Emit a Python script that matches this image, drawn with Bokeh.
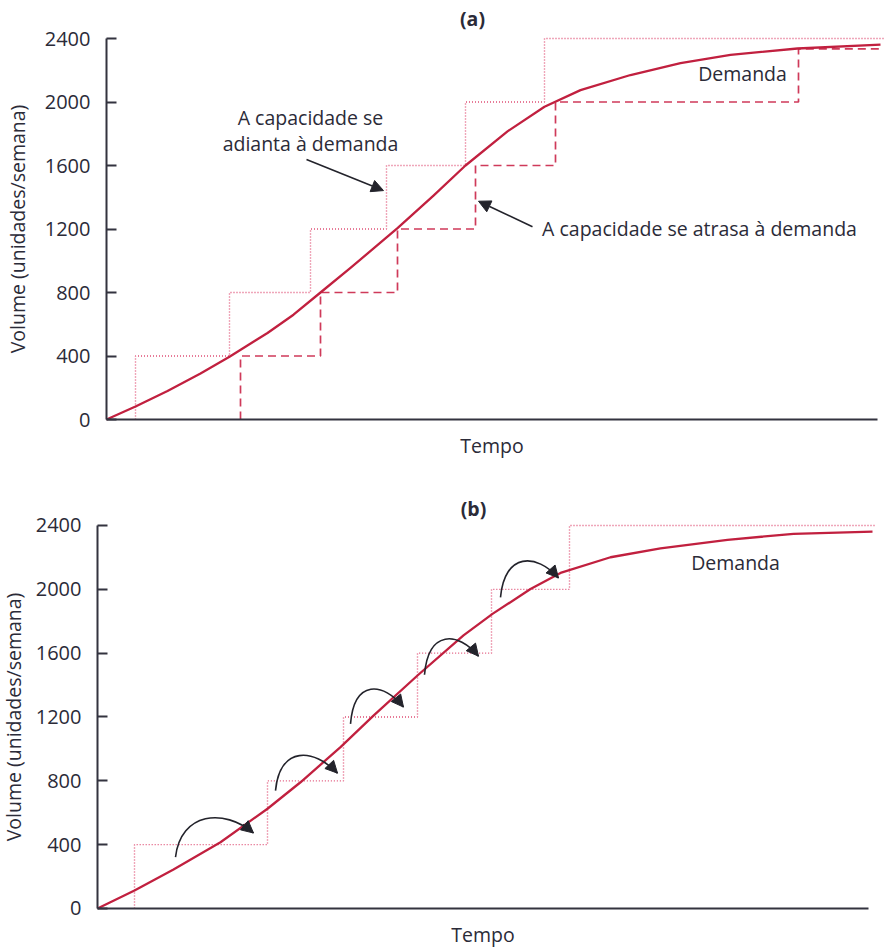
from bokeh.plotting import figure
from bokeh.layouts import column
from bokeh.models import Range1d, Label, Arrow, NormalHead, FixedTicker
from bokeh.embed import file_html
from bokeh.resources import INLINE

# ---------------- data ----------------
y_ticks = [0, 400, 800, 1200, 1600, 2000, 2400]

# panel (a): time (arbitrary units) at which capacity steps up
a_lead_t = [29, 123, 204, 280, 359, 438]
a_lead_cap = [400, 800, 1200, 1600, 2000, 2400]
a_lag_t = [134, 214, 291, 369, 449, 692]
a_lag_cap = [400, 800, 1200, 1600, 2000, 2335]
a_dem_t = [0, 29, 61, 94, 123, 161, 187, 214, 244, 291, 327, 359, 401, 438, 474, 524, 574, 624, 691, 774]
a_dem_v = [0, 82, 180, 290, 395, 545, 660, 800, 955, 1205, 1410, 1600, 1815, 1970, 2075, 2170, 2245, 2297, 2337, 2362]
a_t_end = 777
a_axis_end = 771

# panel (b)
b_lead_t = [37, 170, 246, 320, 394, 472]
b_lead_cap = [400, 800, 1200, 1600, 2000, 2400]
b_dem_t = [0, 37, 76, 123, 170, 203, 243, 276, 320, 366, 395, 433, 463, 513, 563, 630, 696, 775]
b_dem_v = [0, 113, 245, 415, 625, 791, 1011, 1209, 1460, 1711, 1846, 2002, 2103, 2201, 2257, 2310, 2348, 2362]
b_t_end = 778
b_axis_end = 771

# annotation positions (data units)
b_arrow_start = [(78, 322), (178, 739), (253, 1157), (327, 1465), (403, 1950)]
b_arrow_tip = [(156, 473), (240, 848), (306, 1262), (381, 1581), (461, 2071)]

# ---------------- style ----------------
FONT = "Open Sans"
FS = "19.5px"
TXT = "#2b2b38"
AX = "#33333f"
DEM = "#c1203f"
LEAD = "#df4f75"
LAG = "#cf3a5a"
ARW = "#23232b"


def steps(ts, caps, t_end):
    xs, ys = [ts[0]], [0]
    for i, (t, c) in enumerate(zip(ts, caps)):
        xs.append(t)
        ys.append(c)
        nxt = ts[i + 1] if i + 1 < len(ts) else t_end
        xs.append(nxt)
        ys.append(c)
    return xs, ys


def make_fig(height, x_rng, y_rng, axis_end, ylab_standoff):
    p = figure(width=891, height=height, x_range=Range1d(*x_rng), y_range=Range1d(*y_rng),
               output_backend="svg", toolbar_location=None,
               min_border_left=0, min_border_right=0,
               min_border_top=0, min_border_bottom=0)
    p.title.visible = False
    p.grid.visible = False
    p.outline_line_color = None
    p.background_fill_color = "white"
    p.border_fill_color = "white"

    ya = p.yaxis[0]
    ya.fixed_location = 0
    ya.bounds = (0, 2400)
    ya.ticker = FixedTicker(ticks=y_ticks)
    ya.major_tick_in = 10
    ya.major_tick_out = 0
    ya.major_tick_line_width = 2
    ya.major_tick_line_color = AX
    ya.minor_tick_line_color = None
    ya.axis_line_width = 2
    ya.axis_line_color = AX
    ya.major_label_text_font = FONT
    ya.major_label_text_font_size = "20px"
    ya.major_label_text_color = TXT
    ya.major_label_standoff = 16
    ya.axis_label = "Volume (unidades/semana)"
    ya.axis_label_text_font = FONT
    ya.axis_label_text_font_size = FS
    ya.axis_label_text_font_style = "normal"
    ya.axis_label_text_color = TXT
    ya.axis_label_standoff = ylab_standoff

    xa = p.xaxis[0]
    xa.fixed_location = 0
    xa.bounds = (0, axis_end)
    xa.ticker = FixedTicker(ticks=[])
    xa.major_tick_line_color = None
    xa.minor_tick_line_color = None
    xa.major_label_standoff = 0
    xa.axis_line_width = 2
    xa.axis_line_color = AX
    xa.axis_label = "Tempo"
    xa.axis_label_text_font = FONT
    xa.axis_label_text_font_size = FS
    xa.axis_label_text_font_style = "normal"
    xa.axis_label_text_color = TXT
    xa.axis_label_standoff = 12
    return p


def label(p, x, y, text, bold=False, align="center"):
    p.add_layout(Label(x=x, y=y, text=text, text_font=FONT, text_font_size=FS,
                       text_font_style="bold" if bold else "normal",
                       text_color=TXT, text_align=align, text_baseline="middle"))


def arrow(p, xs, ys, xe, ye):
    p.add_layout(Arrow(end=NormalHead(size=12, fill_color=ARW, line_color=ARW, line_width=1),
                       x_start=xs, y_start=ys, x_end=xe, y_end=ye,
                       line_color=ARW, line_width=1.6))


# ---------------- panel (a) ----------------
pa = make_fig(478, (-106, 785), (-371.6, 2639.4), a_axis_end, 11)
lx, ly = steps(a_lead_t, a_lead_cap, a_t_end)
pa.line(lx, ly, line_color=LEAD, line_width=1.4, line_dash="1 2")
gx, gy = steps(a_lag_t, a_lag_cap, a_t_end)
pa.line(gx, gy, line_color=LAG, line_width=1.7, line_dash="8 5")
pa.line(a_dem_t, a_dem_v, line_color=DEM, line_width=2.3, line_join="round")

label(pa, 366, 2529, "(a)", bold=True)
label(pa, 204, 1902, "A capacidade se")
label(pa, 204, 1739, "adianta à demanda")
label(pa, 593, 1203, "A capacidade se atrasa à demanda")
label(pa, 636, 2180, "Demanda")
arrow(pa, 200, 1638, 277, 1442)
arrow(pa, 426, 1214, 372, 1375)

# ---------------- panel (b) ----------------
pb = make_fig(470, (-97, 794), (-250.7, 2694.5), b_axis_end, 6)
lx, ly = steps(b_lead_t, b_lead_cap, b_t_end)
pb.line(lx, ly, line_color=LEAD, line_width=1.4, line_dash="1 2")
pb.line(b_dem_t, b_dem_v, line_color=DEM, line_width=2.3, line_join="round")

label(pb, 376, 2506, "(b)", bold=True)
label(pb, 638, 2168, "Demanda")

PX = 6.27  # data units per pixel vertically (panel b)
for (sx, sy), (tx, ty) in zip(b_arrow_start, b_arrow_tip):
    dx = tx - sx
    c0x, c0y = sx + 0.07 * dx, sy + 45 * PX
    c1x, c1y = tx - 0.38 * dx, ty + 25 * PX
    pb.bezier(x0=[sx], y0=[sy], x1=[tx], y1=[ty], cx0=[c0x], cy0=[c0y], cx1=[c1x], cy1=[c1y],
              line_color=ARW, line_width=1.6)
    arrow(pb, tx - 0.35 * (tx - c1x), ty - 0.35 * (ty - c1y), tx, ty)

layout = column(pa, pb, spacing=0)
open("out.html", "w").write(file_html(layout, INLINE))
